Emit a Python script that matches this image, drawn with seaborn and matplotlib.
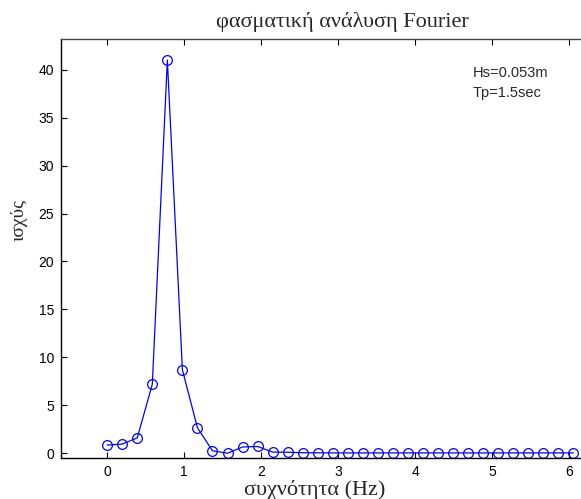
import numpy as np
import pandas as pd
import matplotlib
matplotlib.use("Agg")
import matplotlib.pyplot as plt
import seaborn as sns

# data
df_hz = 25 / 128
freq = [i * df_hz for i in range(32)]
power = [0.85, 0.95, 1.6, 7.2, 41.0, 8.7, 2.65, 0.25, 0.0, 0.65, 0.7,
         0.12, 0.1, 0.05, 0.04, 0.03, 0.03, 0.03, 0.03, 0.03, 0.03, 0.03,
         0.03, 0.03, 0.03, 0.03, 0.03, 0.03, 0.03, 0.03, 0.03, 0.03]
xticks = [0, 1, 2, 3, 4, 5, 6]
yticks = [0, 5, 10, 15, 20, 25, 30, 35, 40]
title = "φασματική ανάλυση Fourier"
xlabel = "συχνότητα (Hz)"
ylabel = "ισχύς"
note = "Hs=0.053m\nTp=1.5sec"

sns.set_theme(style="white")
plt.rcParams['font.family'] = ['Liberation Sans', 'DejaVu Sans']

fig = plt.figure(figsize=(5.81, 4.99), dpi=100)
W, H = 581, 499
left_px, right_px, top_px, bot_px = 61, 592, 39, 458
axw = right_px - left_px
axh = bot_px - top_px
ax = fig.add_axes([left_px / W, 1 - bot_px / H, axw / W, axh / H])

data = pd.DataFrame({"f": freq, "p": power})
sns.lineplot(data=data, x="f", y="p", ax=ax, color="#0000ff", linewidth=0.9,
             marker="o", markersize=7, markerfacecolor="none",
             markeredgecolor="#0000ff", markeredgewidth=0.9)

ax.set_xlim(-0.6, -0.6 + axw / 77.0)
ax.set_ylim(-0.5, 43.2)
ax.set_xticks(xticks)
ax.set_yticks(yticks)
ax.tick_params(direction="in", length=4, width=0.8, labelsize=10, colors="black",
               top=True, bottom=True, left=True, right=False, pad=5)
for s in ["left", "bottom", "top"]:
    ax.spines[s].set_visible(True)
    ax.spines[s].set_linewidth(1.0)
ax.spines["left"].set_color("black")
ax.spines["bottom"].set_color("black")
ax.spines["top"].set_color("#444444")
ax.spines["right"].set_visible(False)
ax.grid(False)

serif = ['Liberation Serif', 'DejaVu Serif']
ax.set_title(title, family=serif, fontsize=16, x=(342.5 - left_px) / axw,
             y=(bot_px - 27) / axh, pad=0)
ax.set_xlabel(xlabel, family=serif, fontsize=16)
ax.xaxis.set_label_coords((315 - left_px) / axw, (bot_px - 480) / axh)
ax.set_ylabel(ylabel, family=serif, fontsize=14)
ax.yaxis.set_label_coords((28 - left_px) / axw, (bot_px - 220) / axh)
ax.text(4.75, 40.4, note, fontsize=10.5, va="top", ha="left", linespacing=1.55)

fig.savefig("out.png", dpi=100, facecolor="white")
